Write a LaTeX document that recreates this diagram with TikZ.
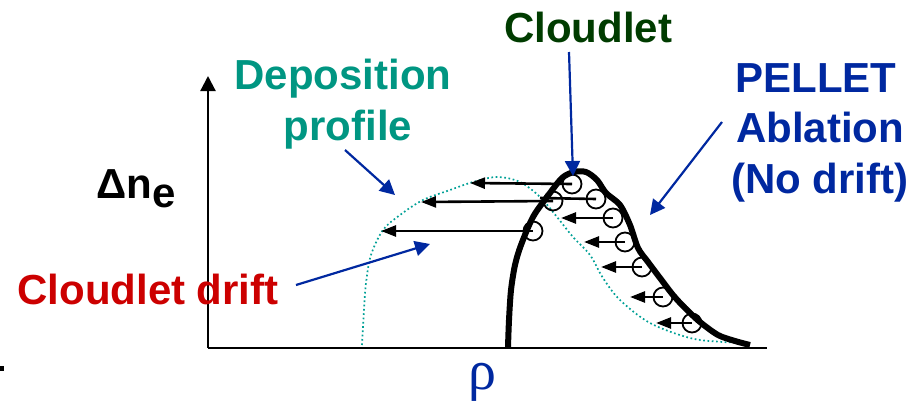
\documentclass[tikz,border=0pt]{standalone}
\usepackage{fontspec}
\setmainfont{Liberation Sans}
\newfontfamily\rhofont{Liberation Serif}
\usetikzlibrary{arrows.meta}
\definecolor{depteal}{RGB}{0,150,130}
\definecolor{dotteal}{RGB}{0,160,150}
\definecolor{dkgreen}{RGB}{0,60,0}
\definecolor{myblue}{RGB}{0,40,160}
\definecolor{myred}{RGB}{204,0,0}
\begin{document}
\begin{tikzpicture}[x=1pt,y=-1pt,
  lbl/.style={font=\fontsize{42}{50}\selectfont\bfseries, inner sep=0pt, anchor=base},
  bluearrow/.style={myblue, line width=2.2pt, -{Triangle[length=15pt,width=15pt]}},
  drift/.style={black, line width=2.6pt, -{Triangle[length=15pt,width=11pt]}},
  blob/.style={circle, draw=black, line width=1.8pt, minimum size=19pt, inner sep=0pt},
  axisline/.style={black, line width=2.2pt}]
\useasboundingbox (0,0) rectangle (920,410);

% stray mark at left edge
\fill[black] (0,366) rectangle (4,371);

% axes
\coordinate (O) at (208,348);
\coordinate (ytop) at (208,76);
\coordinate (xend) at (767,348);
\draw[axisline, -{Triangle[length=15pt,width=15pt]}] (O) -- (ytop);
\draw[axisline] (O) -- (xend);

% labels
\node[lbl, dkgreen] (cloudlet) at (588,42) {Cloudlet};
\node[lbl, depteal] (dep1) at (343,89) {Deposition};
\node[lbl, depteal] (dep2) at (348,140) {profile};
\node[lbl, myblue] (pel1) at (816,92) {PELLET};
\node[lbl, myblue] (pel2) at (820,142) {Ablation};
\node[lbl, myblue] (pel3) at (820,193) {(No drift)};
\node[lbl, myred] (drift) at (148,304) {Cloudlet drift};
\node[lbl, black, anchor=base west] (dne) at (96,198) {Δn\raisebox{-9pt}{e}};
\node[font=\rhofont\fontsize{56}{60}\selectfont, myblue, inner sep=0pt, anchor=base] (rho) at (482,389) {ρ};

% deposition profile (dotted)
\draw[dotteal, line width=1.7pt, dash pattern=on 1.7pt off 2.6pt]
  plot[smooth, tension=0.55] coordinates {(362,345) (364,310) (366,283) (371,255) (383,230) (400,215) (423,200) (450,190) (473,182) (497,177) (520,182) (540,197) (557,217) (573,237) (590,255) (603,278) (620,300) (650,323) (690,338) (723,342) (740,342)};

% pellet ablation profile
\draw[line width=6pt, line join=round]
  plot[smooth, tension=0.5] coordinates {(508,347) (509,320) (511,290) (515,265) (521,245) (533,217) (547,197) (562,178) (574,172) (586,172) (597,180) (606,193) (620,205) (630,225) (638,248) (648,262) (660,278) (673,295) (685,308) (700,322) (718,335) (735,341) (750,345)};

% cloudlets
\node[blob] (c1) at (572,184) {};
\node[blob] (c2) at (553,201) {};
\node[blob] (c3) at (596,199) {};
\node[blob] (c4) at (613,218) {};
\node[blob] (c5) at (533,231) {};
\node[blob] (c6) at (625,242) {};
\node[blob] (c7) at (642,267) {};
\node[blob] (c8) at (663,297) {};
\node[blob] (c9) at (692,323) {};

\coordinate (t1) at (470,183);
\coordinate (t2) at (421,202);
\coordinate (t3e) at (540,198);
\coordinate (t5) at (381,231);
\coordinate (t4) at (561,218);
\coordinate (t6) at (584,242);
\coordinate (t7) at (601,267);
\coordinate (t8) at (630,297);
\coordinate (t9) at (656,323);

\draw[drift] (c1.center) -- (t1);
\draw[drift] (c2.center) -- (t2);
\draw[line width=2.6pt] (c3.center) -- (t3e);
\draw[drift] (c4.center) -- (t4);
\draw[drift] (c5.center) -- (t5);
\draw[drift] (c6.center) -- (t6);
\draw[drift] (c7.center) -- (t7);
\draw[drift] (c8.center) -- (t8);
\draw[drift] (c9.center) -- (t9);

% blue pointer arrows
\coordinate (a1s) at (569,52);   \coordinate (a1e) at (573,176);
\coordinate (a2s) at (722,122);  \coordinate (a2e) at (650,215);
\coordinate (a3s) at (345,150);  \coordinate (a3e) at (395,195);
\coordinate (a4s) at (296,285);  \coordinate (a4e) at (430,244);
\draw[bluearrow] (a1s) -- (a1e);
\draw[bluearrow] (a2s) -- (a2e);
\draw[bluearrow] (a3s) -- (a3e);
\draw[bluearrow] (a4s) -- (a4e);
\end{tikzpicture}
\end{document}
